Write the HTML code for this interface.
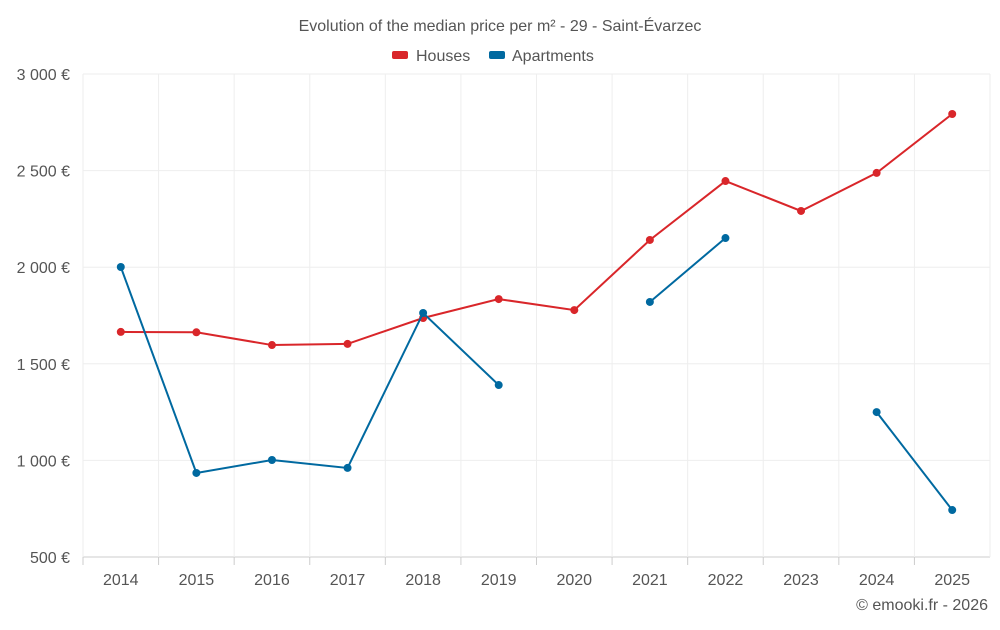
<!DOCTYPE html>
<html><head><meta charset="utf-8"><style>
body{margin:0;background:#fff;font-family:"Liberation Sans",sans-serif;}
svg text{font-family:"Liberation Sans",sans-serif;fill:#555;}
</style></head><body>
<svg id="c" width="1000" height="625">
<text x="500" y="31" text-anchor="middle" font-size="16">Evolution of the median price per m² - 29 - Saint-Évarzec</text>
<g>
<g><rect x="392" y="51" width="16" height="8" rx="2" fill="#d9262a"/><text x="416" y="61" font-size="16">Houses</text></g>
<g><rect x="489" y="51" width="16" height="8" rx="2" fill="#0069a0"/><text x="512" y="61" font-size="16">Apartments</text></g>
</g>
<g id="grid"></g><g id="axes"></g><g id="series"></g>
<text x="988" y="610" text-anchor="end" font-size="16">© emooki.fr - 2026</text>
</svg>
<script>
const categories=[2014,2015,2016,2017,2018,2019,2020,2021,2022,2023,2024,2025];
const houses=[1665,1663,1597,1603,1737,1835,1778,2141,2446,2291,2488,2793];
const apartments=[2001,935,1002,961,1763,1390,null,1820,2151,null,1250,743];
const yTicks=[500,1000,1500,2000,2500,3000];
const yTickLabels=["500 €","1 000 €","1 500 €","2 000 €","2 500 €","3 000 €"];
const L=83,R=990,T=74,B=557,NS="http://www.w3.org/2000/svg";
const bw=(R-L)/categories.length;
const x=i=>L+bw*(i+0.5);
const y=v=>B-(v-500)/2500*(B-T);
function mk(p,t,a){const e=document.createElementNS(NS,t);for(const k in a)e.setAttribute(k,a[k]);p.appendChild(e);return e;}
const g=document.getElementById('grid'),ax=document.getElementById('axes'),s=document.getElementById('series');
yTicks.forEach((v,i)=>{
 const l=mk(g,'line',{x1:L,x2:R,y1:y(v),y2:y(v),stroke:i==0?'#ccc':'#eee'});
 
 
 const t=mk(ax,'text',{x:70,y:y(v)+6,'text-anchor':'end','font-size':16});
 t.textContent=yTickLabels[i];
 
 
});
for(let i=0;i<=categories.length;i++){
 const l=mk(g,'line',{x1:L+bw*i,x2:L+bw*i,y1:T,y2:B,stroke:'#eee'});
 
 
}
categories.forEach((c,i)=>{
 const t=mk(ax,'text',{x:x(i),y:585,'text-anchor':'middle','font-size':16});
 t.textContent=c;
 
 
 const k=mk(ax,'line',{x1:L+bw*i,x2:L+bw*i,y1:B,y2:B+8,stroke:'#ccc'});
 
 
});
function draw(data,color,name){
 let d='',pen=false;
 data.forEach((v,i)=>{if(v==null){pen=false;return;}d+=(pen?'L':'M')+x(i)+' '+y(v)+' ';pen=true;});
 const p=mk(s,'path',{d:d,fill:'none',stroke:color,'stroke-width':2});
 
 
 data.forEach((v,i)=>{if(v==null)return;
  const c=mk(s,'circle',{cx:x(i),cy:y(v),r:4,fill:color});
  
  
 });
}
draw(houses,'#d9262a','houses');
draw(apartments,'#0069a0','apartments');
</script>
</body></html>
